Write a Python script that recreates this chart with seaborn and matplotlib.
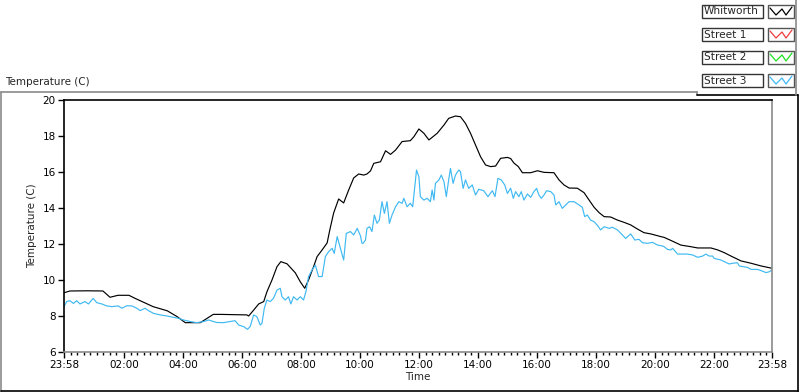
import numpy as np
import pandas as pd
import matplotlib
matplotlib.use("Agg")
import matplotlib.pyplot as plt
from matplotlib.lines import Line2D
from matplotlib.patches import Rectangle
import seaborn as sns

# hours since 23:58 (start of the record)
whitworth_t = [0.0, 0.2, 0.8, 1.32, 1.56, 1.83, 2.2, 2.41, 3.02, 3.5, 3.84, 4.11, 4.62, 4.85,
               5.06, 5.3, 6.2, 6.26, 6.43, 6.6, 6.77, 6.88, 7.05, 7.22, 7.35, 7.56, 7.84, 8.01,
               8.16, 8.29, 8.46, 8.58, 8.75, 8.92, 9.01, 9.14, 9.31, 9.48, 9.65, 9.82, 9.99,
               10.16, 10.27, 10.39, 10.5, 10.73, 10.9, 11.07, 11.24, 11.46, 11.74, 11.86, 12.03,
               12.2, 12.37, 12.65, 12.88, 13.04, 13.27, 13.44, 13.61, 13.78, 13.95, 14.12, 14.29,
               14.46, 14.63, 14.8, 15.03, 15.14, 15.25, 15.4, 15.54, 15.82, 16.05, 16.27, 16.61,
               16.78, 16.95, 17.12, 17.4, 17.63, 17.8, 17.97, 18.14, 18.31, 18.53, 18.76, 18.99,
               19.21, 19.44, 19.66, 19.89, 20.12, 20.23, 20.34, 20.57, 20.91, 21.25, 21.48, 21.93,
               22.16, 22.38, 22.61, 22.95, 23.29, 23.63, 23.86, 24.0]
whitworth_v = [9.29, 9.39, 9.40, 9.39, 9.04, 9.15, 9.15, 8.98, 8.52, 8.29, 7.96, 7.63, 7.63, 7.87,
               8.09, 8.09, 8.06, 8.0, 8.33, 8.67, 8.8, 9.35, 10.0, 10.74, 11.02, 10.9, 10.4, 9.9,
               9.54, 10.0, 10.74, 11.3, 11.67, 12.06, 12.78, 13.72, 14.5, 14.28, 15.0, 15.67, 15.89,
               15.83, 15.89, 16.06, 16.48, 16.57, 17.18, 16.98, 17.22, 17.69, 17.74, 17.96, 18.39,
               18.15, 17.78, 18.15, 18.61, 18.98, 19.11, 19.07, 18.7, 18.15, 17.5, 16.85, 16.39,
               16.3, 16.33, 16.76, 16.81, 16.75, 16.5, 16.3, 15.96, 15.96, 16.07, 15.98, 15.96,
               15.56, 15.28, 15.11, 15.1, 14.85, 14.44, 14.04, 13.74, 13.52, 13.5, 13.33, 13.2,
               13.06, 12.83, 12.63, 12.56, 12.46, 12.41, 12.37, 12.2, 11.94, 11.85, 11.78, 11.78,
               11.67, 11.52, 11.33, 11.06, 10.93, 10.78, 10.7, 10.65]

street3_t = [0.0, 0.09, 0.2, 0.32, 0.43, 0.54, 0.71, 0.83, 0.99, 1.11, 1.28, 1.45, 1.62, 1.84,
             1.96, 2.13, 2.3, 2.47, 2.58, 2.75, 2.86, 3.03, 3.26, 3.49, 3.71, 3.88, 4.05, 4.28,
             4.5, 4.73, 4.9, 5.07, 5.18, 5.41, 5.63, 5.8, 5.92, 6.09, 6.22, 6.31, 6.43, 6.54,
             6.65, 6.71, 6.79, 6.88, 6.99, 7.1, 7.22, 7.33, 7.39, 7.5, 7.61, 7.69, 7.78, 7.9,
             8.01, 8.12, 8.2, 8.29, 8.41, 8.52, 8.63, 8.75, 8.86, 8.97, 9.09, 9.16, 9.26, 9.37,
             9.48, 9.57, 9.71, 9.82, 9.94, 10.05, 10.1, 10.14, 10.22, 10.27, 10.36, 10.44, 10.52,
             10.61, 10.69, 10.78, 10.86, 10.95, 11.03, 11.12, 11.24, 11.35, 11.46, 11.52, 11.63,
             11.74, 11.82, 11.88, 11.95, 12.03, 12.08, 12.2, 12.31, 12.42, 12.48, 12.54, 12.59,
             12.71, 12.79, 12.88, 12.96, 13.04, 13.1, 13.19, 13.27, 13.38, 13.44, 13.53, 13.61,
             13.72, 13.84, 13.95, 14.06, 14.23, 14.37, 14.52, 14.61, 14.71, 14.82, 14.94, 15.03,
             15.14, 15.23, 15.31, 15.42, 15.5, 15.59, 15.71, 15.82, 15.93, 16.02, 16.1, 16.18,
             16.27, 16.36, 16.5, 16.61, 16.67, 16.78, 16.89, 17.01, 17.12, 17.29, 17.46, 17.57,
             17.65, 17.74, 17.85, 17.97, 18.1, 18.19, 18.31, 18.48, 18.59, 18.76, 18.93, 19.04,
             19.21, 19.35, 19.49, 19.61, 19.78, 19.95, 20.12, 20.29, 20.34, 20.46, 20.57, 20.63,
             20.68, 20.8, 21.14, 21.31, 21.48, 21.65, 21.76, 21.87, 21.99, 22.04, 22.27, 22.55,
             22.66, 22.83, 22.89, 23.17, 23.29, 23.51, 23.63, 23.8, 23.91, 24.0]
street3_v = [8.52, 8.8, 8.85, 8.7, 8.85, 8.67, 8.8, 8.67, 8.98, 8.74, 8.67, 8.56, 8.52, 8.56,
             8.43, 8.57, 8.56, 8.43, 8.3, 8.43, 8.3, 8.15, 8.06, 8.0, 7.93, 7.87, 7.78, 7.69,
             7.63, 7.69, 7.78, 7.69, 7.64, 7.63, 7.69, 7.74, 7.5, 7.41, 7.26, 7.41, 8.06, 7.96,
             7.5, 7.59, 8.43, 8.89, 8.8, 8.98, 9.44, 9.54, 9.07, 8.89, 9.07, 8.67, 9.07, 8.89,
             9.07, 8.89, 9.35, 10.19, 10.56, 10.83, 10.19, 10.19, 11.3, 11.57, 11.76, 11.48, 12.41, 11.76,
             11.11, 12.59, 12.69, 12.5, 12.87, 12.45, 12.04, 12.04, 12.22, 12.87, 12.96, 12.69, 13.61,
             13.15, 13.33, 14.35, 13.7, 14.35, 13.15, 13.61, 14.07, 14.35, 14.26, 14.54, 14.07,
             14.26, 14.07, 15.0, 16.11, 15.74, 14.63, 14.44, 14.54, 14.35, 15.0, 14.44, 15.37,
             15.56, 15.83, 15.46, 14.63, 15.56, 16.2, 15.37, 15.83, 16.11, 16.02, 15.09, 15.56,
             15.09, 15.28, 14.72, 15.04, 14.96, 14.63, 14.96, 14.63, 15.65, 15.56, 15.28, 14.81,
             15.1, 14.54, 14.91, 14.63, 14.91, 14.44, 14.78, 14.59, 14.91, 15.09, 14.72, 14.54,
             14.72, 14.96, 14.91, 14.72, 14.17, 14.35, 13.98, 14.17, 14.35, 14.35, 14.17, 14.04,
             13.52, 13.61, 13.33, 13.24, 13.0, 12.78, 12.96, 12.87, 12.93, 12.78, 12.5, 12.31,
             12.56, 12.22, 12.26, 12.07, 12.04, 12.09, 11.94, 11.89, 11.85, 11.7, 11.67, 11.76,
             11.67, 11.44, 11.44, 11.39, 11.26, 11.33, 11.44, 11.33, 11.33, 11.2, 11.11, 10.89,
             10.93, 10.96, 10.78, 10.7, 10.59, 10.59, 10.52, 10.41, 10.46, 10.56]

# Street 1 and Street 2 have no samples in this record
street1_t, street1_v = [], []
street2_t, street2_v = [], []

series_names = ["Whitworth", "Street 1", "Street 2", "Street 3"]
series_colors = ["#000000", "#f03c3c", "#1ee01e", "#3fb9f2"]

x_labels = ["23:58", "02:00", "04:00", "06:00", "08:00", "10:00", "12:00",
            "14:00", "16:00", "18:00", "20:00", "22:00", "23:58"]
x_ticks = [0.0] + [2 + 2 / 60 + 2 * i for i in range(11)] + [24.0]

frames = []
for name, t, v in zip(series_names,
                      [whitworth_t, street1_t, street2_t, street3_t],
                      [whitworth_v, street1_v, street2_v, street3_v]):
    frames.append(pd.DataFrame({"hours": t, "temp": v, "series": name}))
data = pd.concat(frames, ignore_index=True)

sns.set_style("white")
plt.rcParams["font.family"] = ["DejaVu Sans"]
FS = 7.5

W, H = 800, 392
fig = plt.figure(figsize=(W / 100, H / 100), dpi=100)
fig.patch.set_facecolor("white")

def fx(px):
    return px / W

def fy(py):
    return 1 - py / H

ax = fig.add_axes([fx(64), fy(352), fx(772) - fx(64), fy(100) - fy(352)])

present = [n for n in series_names if (data["series"] == n).any()]
sns.lineplot(data=data[data["series"].isin(present)], x="hours", y="temp", hue="series",
             hue_order=present, palette=dict(zip(series_names, series_colors)),
             estimator=None, sort=True, linewidth=0.85, legend=False, ax=ax)

ax.set_xlim(0, 24)
ax.set_ylim(6, 20)
ax.set_yticks(np.arange(6, 21, 2))
ax.set_xticks(x_ticks)
ax.set_xticklabels(x_labels)
minor = []
for i in range(len(x_ticks) - 1):
    step = 2 / 9
    k = 1
    while x_ticks[i] + k * step < x_ticks[i + 1] - 0.05:
        minor.append(x_ticks[i] + k * step)
        k += 1
ax.set_xticks(minor, minor=True)

ax.tick_params(axis="both", which="major", direction="out", length=4, width=1,
               color="black", labelsize=FS, labelcolor="black", pad=2)
ax.tick_params(axis="x", which="minor", direction="out", length=2, width=1,
               color="black", bottom=True)
ax.tick_params(axis="x", bottom=True)
ax.tick_params(axis="y", left=True)

for side in ["left", "top"]:
    ax.spines[side].set_color("black")
    ax.spines[side].set_linewidth(1.2)
for side in ["right", "bottom"]:
    ax.spines[side].set_color("#8a8a8a")
    ax.spines[side].set_linewidth(1.2)

ax.set_xlabel("Time", fontsize=FS, labelpad=1)
ax.set_ylabel("Temperature (C)", fontsize=FS, labelpad=4)
ax.grid(False)

# graph caption and outer frame
fig.text(fx(5), fy(82), "Temperature (C)", fontsize=FS, ha="left", va="center")
frame = [
    ([fx(1), fx(1)], [fy(92), fy(392)], "#8a8a8a"),
    ([fx(1), fx(697)], [fy(92), fy(92)], "#8a8a8a"),
    ([fx(697), fx(697)], [fy(92), fy(95)], "#8a8a8a"),
    ([fx(697), fx(798)], [fy(95), fy(95)], "black"),
    ([fx(798), fx(798)], [fy(95), fy(392)], "black"),
    ([fx(1), fx(798)], [fy(391), fy(391)], "black"),
    ([fx(796), fx(796)], [fy(0), fy(95)], "#8a8a8a"),
]
for xs, ys, c in frame:
    fig.add_artist(Line2D(xs, ys, color=c, linewidth=1.2, transform=fig.transFigure))

# plot legend (name box + line glyph box)
row_top = [5, 28, 51, 74]
for name, color, top in zip(series_names, series_colors, row_top):
    fig.add_artist(Rectangle((fx(702), fy(top + 13)), fx(763) - fx(702), fy(top) - fy(top + 13),
                             facecolor="white", edgecolor="#333333", linewidth=1.0,
                             transform=fig.transFigure))
    fig.text(fx(704), fy(top + 6.5), name, fontsize=7.6, ha="left", va="center")
    fig.add_artist(Rectangle((fx(768), fy(top + 13)), fx(794) - fx(768), fy(top) - fy(top + 13),
                             facecolor="white", edgecolor="#555555", linewidth=1.0,
                             transform=fig.transFigure))
    gx = [770, 776, 782, 786, 792]
    gy = [top + 3, top + 10, top + 4, top + 10, top + 2]
    fig.add_artist(Line2D([fx(p) for p in gx], [fy(p) for p in gy], color=color,
                          linewidth=0.9, transform=fig.transFigure))

fig.savefig("out.png", dpi=100, facecolor="white")
